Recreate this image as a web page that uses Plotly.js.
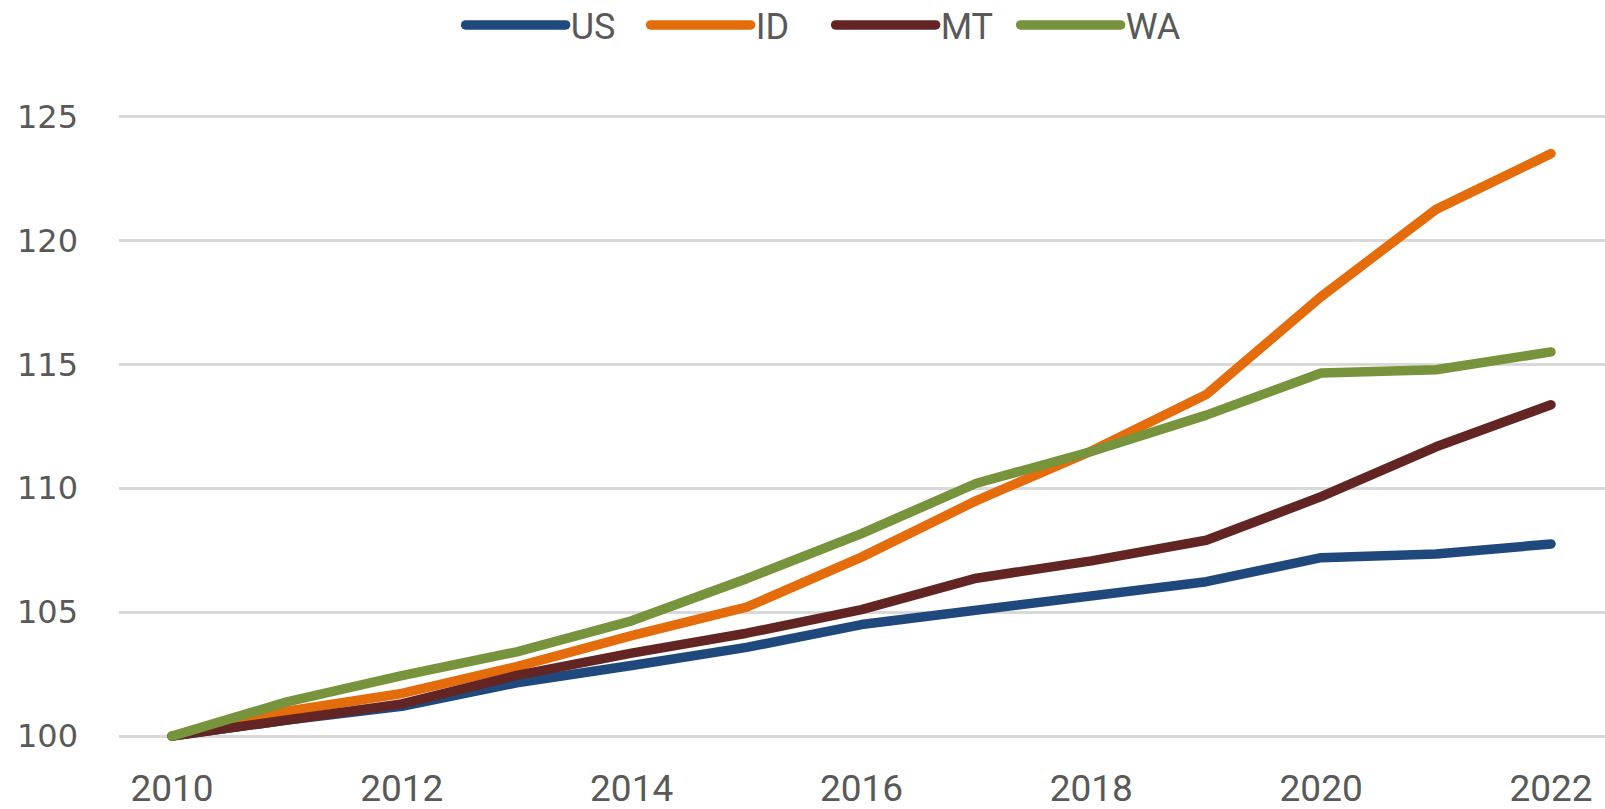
<!DOCTYPE html>
<html>
<head>
<meta charset="utf-8">
<script src="https://cdn.plot.ly/plotly-3.0.1.min.js"></script>
<style>
html, body { margin: 0; padding: 0; background: #ffffff; }
#chart { width: 1605px; height: 809px; }
path.js-line { stroke-linecap: round !important; stroke-linejoin: round !important; }
</style>
</head>
<body>
<div id="chart"></div>
<script>
var years = [2010, 2011, 2012, 2013, 2014, 2015, 2016, 2017, 2018, 2019, 2020, 2021, 2022];
var usValues = [100, 100.65, 101.2, 102.15, 102.85, 103.58, 104.5, 105.05, 105.65, 106.23, 107.2, 107.35, 107.75];
var idValues = [100, 101.0, 101.72, 102.8, 104.05, 105.2, 107.22, 109.5, 111.5, 113.78, 117.73, 121.25, 123.5];
var mtValues = [100, 100.67, 101.3, 102.45, 103.35, 104.15, 105.1, 106.37, 107.07, 107.9, 109.66, 111.67, 113.37];
var waValues = [100, 101.38, 102.44, 103.4, 104.65, 106.35, 108.17, 110.2, 111.48, 112.95, 114.65, 114.78, 115.5];
var seriesNames = ['US', 'ID', 'MT', 'WA'];
var seriesColors = ['#1F497D', '#E46C0A', '#632523', '#77933C'];
var xTickVals = [2010, 2012, 2014, 2016, 2018, 2020, 2022];
var yTickVals = [100, 105, 110, 115, 120, 125];

var allValues = [usValues, idValues, mtValues, waValues];
var traces = allValues.map(function (vals, i) {
  return {
    type: 'scatter',
    mode: 'lines',
    name: seriesNames[i],
    x: years,
    y: vals,
    line: { color: seriesColors[i], width: 9.5 },
    hoverinfo: 'x+y+name'
  };
});

var layout = {
  width: 1605,
  height: 809,
  paper_bgcolor: '#ffffff',
  plot_bgcolor: '#ffffff',
  margin: { l: 119, r: 0, t: 109, b: 63 },
  showlegend: true,
  legend: {
    orientation: 'h',
    xref: 'container',
    yref: 'container',
    x: 0.287,
    xanchor: 'left',
    y: 0.969,
    yanchor: 'middle',
    itemwidth: 100,
    entrywidth: 70,
    entrywidthmode: 'pixels',
    font: { family: 'Roboto, sans-serif', size: 36, color: '#595959' },
    traceorder: 'normal'
  },
  xaxis: {
    range: [2009.539, 2022.47],
    tickvals: xTickVals,
    ticktext: xTickVals.map(String),
    showgrid: false,
    zeroline: false,
    showline: false,
    ticks: '',
    ticklabelstandoff: 17,
    tickfont: { family: 'Roboto, sans-serif', size: 37, color: '#595959' }
  },
  yaxis: {
    range: [99.6, 125.3],
    tickvals: yTickVals,
    ticktext: yTickVals.map(String),
    showgrid: true,
    gridcolor: '#d9d9d9',
    gridwidth: 3,
    zeroline: false,
    showline: false,
    ticks: '',
    ticklabelstandoff: 40,
    tickfont: { family: 'DejaVu Sans, sans-serif', size: 32, color: '#595959' }
  }
};

Plotly.newPlot('chart', traces, layout, { displayModeBar: false, staticPlot: true });
</script>
</body>
</html>
